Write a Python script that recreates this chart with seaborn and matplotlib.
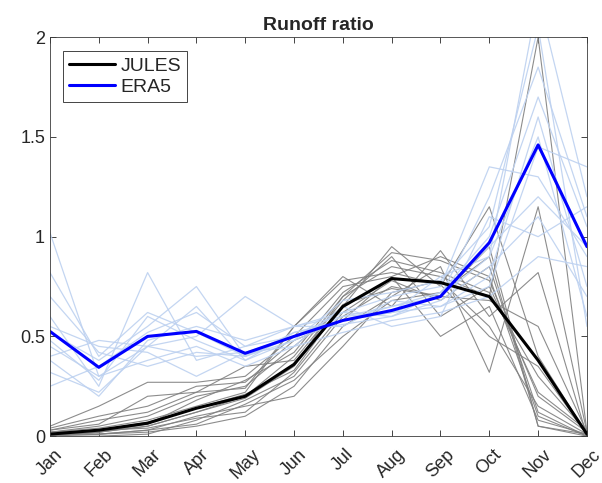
import numpy as np
import pandas as pd
import matplotlib
matplotlib.use("Agg")
import matplotlib.pyplot as plt
import seaborn as sns

# --- data ---
months = ['Jan', 'Feb', 'Mar', 'Apr', 'May', 'Jun', 'Jul', 'Aug', 'Sep', 'Oct', 'Nov', 'Dec']

jules_mean = [0.01, 0.03, 0.065, 0.14, 0.20, 0.36, 0.65, 0.79, 0.77, 0.70, 0.38, 0.01]
era5_mean = [0.525, 0.345, 0.50, 0.525, 0.415, 0.50, 0.58, 0.63, 0.70, 0.97, 1.46, 0.95]

jules_years = [
    [0.00, 0.02, 0.05, 0.12, 0.20, 0.40, 0.70, 0.85, 0.80, 0.70, 2.00, 0.02],
    [0.02, 0.05, 0.10, 0.20, 0.25, 0.45, 0.65, 0.95, 0.75, 1.15, 0.40, 0.01],
    [0.05, 0.15, 0.27, 0.27, 0.30, 0.50, 0.75, 0.80, 0.90, 0.80, 0.10, 0.00],
    [0.01, 0.01, 0.02, 0.05, 0.10, 0.25, 0.55, 0.70, 0.85, 0.32, 1.15, 0.02],
    [0.00, 0.00, 0.01, 0.08, 0.18, 0.30, 0.60, 0.75, 0.70, 0.95, 0.05, 0.01],
    [0.02, 0.04, 0.08, 0.15, 0.22, 0.55, 0.80, 0.65, 0.93, 0.60, 0.82, 0.00],
    [0.03, 0.06, 0.20, 0.22, 0.35, 0.38, 0.68, 0.90, 0.60, 0.75, 0.22, 0.03],
    [0.00, 0.01, 0.03, 0.10, 0.15, 0.20, 0.45, 0.72, 0.78, 0.55, 0.15, 0.01],
    [0.01, 0.02, 0.06, 0.18, 0.28, 0.42, 0.72, 0.88, 0.82, 0.72, 0.30, 0.02],
    [0.02, 0.03, 0.04, 0.09, 0.12, 0.32, 0.62, 0.78, 0.68, 0.85, 0.12, 0.00],
    [0.04, 0.10, 0.15, 0.25, 0.27, 0.48, 0.58, 0.80, 0.50, 0.65, 0.08, 0.01],
    [0.00, 0.02, 0.05, 0.12, 0.19, 0.35, 0.70, 0.92, 0.88, 0.78, 0.20, 0.02],
    [0.01, 0.01, 0.03, 0.06, 0.16, 0.28, 0.50, 0.68, 0.72, 0.90, 0.05, 0.00],
    [0.03, 0.08, 0.12, 0.22, 0.24, 0.55, 0.78, 0.82, 0.76, 0.50, 0.35, 0.01],
    [0.01, 0.03, 0.07, 0.14, 0.21, 0.33, 0.66, 0.74, 0.70, 0.68, 0.55, 0.02],
]

era5_years = [
    [1.02, 0.30, 0.45, 0.40, 0.42, 0.50, 0.60, 0.65, 0.72, 1.00, 1.70, 1.05],
    [0.82, 0.40, 0.62, 0.52, 0.40, 0.48, 0.58, 0.62, 0.70, 0.90, 2.20, 1.20],
    [0.60, 0.25, 0.82, 0.38, 0.45, 0.55, 0.62, 0.70, 0.75, 1.35, 1.30, 0.90],
    [0.52, 0.38, 0.55, 0.75, 0.40, 0.52, 0.56, 0.60, 0.68, 0.85, 1.10, 0.70],
    [0.40, 0.48, 0.45, 0.50, 0.70, 0.55, 0.60, 0.62, 0.65, 0.75, 1.45, 1.35],
    [0.32, 0.22, 0.45, 0.65, 0.38, 0.48, 0.68, 0.72, 0.78, 1.05, 2.05, 0.55],
    [0.45, 0.30, 0.38, 0.45, 0.35, 0.45, 0.52, 0.58, 0.62, 0.70, 0.90, 0.85],
    [0.25, 0.35, 0.52, 0.62, 0.45, 0.50, 0.58, 0.65, 0.70, 1.20, 1.85, 1.10],
    [0.70, 0.42, 0.35, 0.42, 0.40, 0.50, 0.62, 0.60, 0.72, 0.95, 1.20, 0.95],
    [0.38, 0.20, 0.48, 0.55, 0.48, 0.55, 0.55, 0.68, 0.65, 0.80, 1.60, 0.75],
    [0.55, 0.45, 0.42, 0.30, 0.42, 0.45, 0.65, 0.55, 0.60, 1.10, 1.00, 1.15],
    [0.48, 0.28, 0.60, 0.48, 0.38, 0.52, 0.58, 0.62, 0.80, 0.90, 1.50, 0.60],
]

# --- style ---
sns.set_theme(style="white")
plt.rcParams['font.family'] = ['Liberation Sans', 'DejaVu Sans']


def to_long(rows):
    recs = []
    for i, r in enumerate(rows):
        for m, v in enumerate(r):
            recs.append({'year': i, 'month': m, 'ratio': v})
    return pd.DataFrame(recs)


df_j = to_long(jules_years)
df_e = to_long(era5_years)
df_mean = pd.DataFrame({'month': range(12), 'JULES': jules_mean, 'ERA5': era5_mean})

fig = plt.figure(figsize=(6.02, 4.83), dpi=100)
ax = fig.add_axes([0.083, 0.097, 0.892, 0.826])

# individual years (thin)
sns.lineplot(data=df_j, x='month', y='ratio', units='year', estimator=None,
             color=(0.5, 0.5, 0.5), lw=0.8, alpha=0.9, ax=ax, legend=False)
sns.lineplot(data=df_e, x='month', y='ratio', units='year', estimator=None,
             color=(0.74, 0.82, 0.94), lw=0.9, alpha=0.9, ax=ax, legend=False)

# means (thick)
sns.lineplot(data=df_mean, x='month', y='JULES', color='black', lw=2.2, ax=ax, label='JULES')
sns.lineplot(data=df_mean, x='month', y='ERA5', color=(0.0, 0.0, 1.0), lw=2.2, ax=ax, label='ERA5')

ax.set_xlim(0, 11)
ax.set_ylim(0, 2)
ax.set_xticks(range(12))
ax.set_xticklabels(months, rotation=45, fontsize=13)
ax.set_yticks([0, 0.5, 1, 1.5, 2])
ax.set_yticklabels(['0', '0.5', '1', '1.5', '2'], fontsize=13)
ax.set_xlabel('')
ax.set_ylabel('')
ax.set_title('Runoff ratio', fontsize=14, fontweight='bold', pad=5)

ax.tick_params(direction='in', length=4, width=0.6, color='#262626',
               top=True, right=True, bottom=True, left=True, labelcolor='#262626')
ax.tick_params(axis='x', pad=7)
for s in ax.spines.values():
    s.set_color('#3a3a3a')
    s.set_linewidth(0.6)

leg = ax.legend(loc='upper left', fontsize=14, frameon=True, fancybox=False,
                edgecolor='#262626', framealpha=1, borderpad=0.3,
                handlelength=2.4, handletextpad=0.25, labelspacing=0.2,
                borderaxespad=0, bbox_to_anchor=(0.024, 0.965))
leg.get_frame().set_linewidth(0.6)

plt.savefig('out.png', dpi=100)
